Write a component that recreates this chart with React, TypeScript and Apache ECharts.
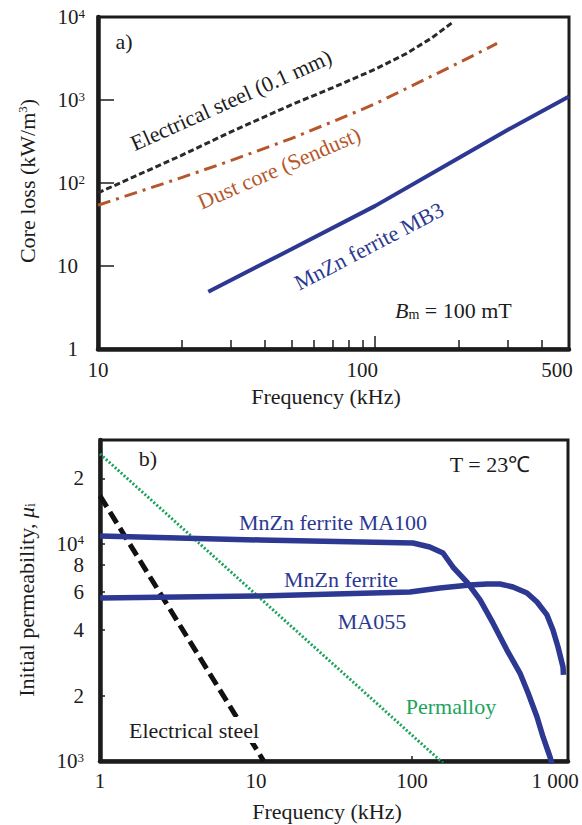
import React, { useEffect, useRef } from 'react';
import * as echarts from 'echarts';

const FONT = 'Liberation Serif';
const BLACK = '#1c1c1c';
const BLUE = '#2c3892';
const BROWN = '#b5572b';
const GREEN = '#1aa35c';

// ---- (a) core loss vs frequency, Bm = 100 mT ----
const lossSteelFreq = [10, 20, 30, 50, 70, 100, 130, 160, 190];
const lossSteelVal = [76, 215, 410, 880, 1400, 2350, 3650, 5600, 8600];
const lossDustFreq = [10, 20, 30, 50, 75, 100, 150, 200, 275];
const lossDustVal = [54, 116, 185, 345, 600, 900, 1750, 2800, 4800];
const lossFerriteFreq = [25, 50, 100, 200, 300, 500];
const lossFerriteVal = [4.9, 16, 53, 200, 435, 1100];

const lossXLabels = [10, 100, 500];
const lossXMinorTicks = [20, 30, 40, 50, 60, 70, 80, 90, 200, 300, 400];
const lossXMajorTicks = [100];
const lossYLabels = [1, 10, 100, 1000, 10000];
const lossYTicks = [10, 100, 1000];

// ---- (b) initial permeability vs frequency, T = 23 C ----
const permPermalloyFreq = [1, 160];
const permPermalloyVal = [25900, 970];
const permSteelFreq = [1, 11.2];
const permSteelVal = [16600, 1000];
const permMA100Freq = [1, 10.6, 101.5, 130, 158, 183, 225, 273, 330, 406, 492, 555, 633, 692, 767, 789];
const permMA100Val = [10840, 10400, 10070, 9660, 9060, 7810, 6660, 5510, 4320, 3240, 2540, 2055, 1594, 1290, 1043, 970];
const permMA055Freq = [1, 10.6, 97, 151, 235, 303, 367, 444, 546, 633, 733, 801, 863, 929, 935];
const permMA055Val = [5625, 5745, 5995, 6250, 6455, 6525, 6525, 6320, 5930, 5390, 4700, 4005, 3346, 2707, 2490];

const permXLabels = [1, 10, 100, 1000];
const permXTicks = [100];
const permYLabels = [1000, 2000, 4000, 6000, 8000, 10000, 20000];
const permYTicks = [2000, 4000, 6000, 8000, 10000, 20000];

const pairs = (xs: number[], ys: number[]) => xs.map((x, i) => [x, ys[i]]);

const tickText = { fontFamily: FONT, fontSize: 21, color: BLACK };
const supStyle = { fontFamily: FONT, fontSize: 13, color: BLACK, verticalAlign: 'top' as const };

function powLabel(v: number) {
  const e = Math.round(Math.log10(v));
  return `10{sup|${e}}`;
}

function txt(text: string, x: number, y: number, color: string, size: number, rotation = 0) {
  return {
    type: 'text', x, y, rotation, z: 100,
    style: { text, align: 'center', verticalAlign: 'middle', fontFamily: FONT, fontSize: size, fill: color },
  };
}

function buildOption() {
  const axisLine = { show: true, onZero: false, lineStyle: { color: BLACK, width: 4.5 } };
  const tickLine = { color: BLACK, width: 1.5 };

  return {
    animation: false,
    backgroundColor: '#ffffff',
    textStyle: { fontFamily: FONT },
    grid: [
      { left: 98, top: 17, width: 471, height: 332, show: true, borderColor: BLACK, borderWidth: 3, backgroundColor: 'transparent', outerBoundsMode: 'none' },
      { left: 100, top: 440, width: 468, height: 321, show: true, borderColor: BLACK, borderWidth: 3, backgroundColor: 'transparent', outerBoundsMode: 'none' },
    ],
    xAxis: [
      {
        gridIndex: 0, type: 'log', logBase: 10, min: 10, max: 500, position: 'bottom',
        axisLine,
        axisTick: { show: true, inside: true, length: 9, customValues: lossXMinorTicks, lineStyle: tickLine },
        splitLine: { show: false }, minorTick: { show: false },
        axisLabel: {
          show: true, customValues: lossXLabels, margin: 10, showMinLabel: true, showMaxLabel: true, ...tickText,
          formatter: (v: number) => (v === 10 ? '10' : v === 100 ? '100{sa| }' : '500{sb| }'),
          rich: { sa: { width: 26 }, sb: { width: 24 } },
        },
      },
      {
        gridIndex: 0, type: 'log', logBase: 10, min: 10, max: 500, position: 'bottom',
        axisLine: { show: false },
        axisTick: { show: true, inside: true, length: 13, customValues: lossXMajorTicks, lineStyle: tickLine },
        splitLine: { show: false }, minorTick: { show: false },
        axisLabel: { show: false },
      },
      {
        gridIndex: 1, type: 'log', logBase: 10, min: 1, max: 1000, position: 'bottom',
        axisLine,
        axisTick: { show: true, inside: true, length: 5, customValues: permXTicks, lineStyle: tickLine },
        splitLine: { show: false }, minorTick: { show: false },
        axisLabel: {
          show: true, customValues: permXLabels, margin: 9, showMinLabel: true, showMaxLabel: true, ...tickText,
          formatter: (v: number) => (v === 1000 ? '1 000{sa| }' : String(v)),
          rich: { sa: { width: 26 } },
        },
      },
    ],
    yAxis: [
      {
        gridIndex: 0, type: 'log', logBase: 10, min: 1, max: 10000, position: 'left',
        axisLine,
        axisTick: { show: true, inside: true, length: 16, customValues: lossYTicks, lineStyle: tickLine },
        splitLine: { show: false }, minorTick: { show: false },
        axisLabel: {
          show: true, customValues: lossYLabels, margin: 13, showMinLabel: true, showMaxLabel: true, ...tickText,
          formatter: (v: number) => (v === 1 ? '1{sp| }' : v === 10 ? '10{sp| }' : powLabel(v)),
          rich: { sup: supStyle, sp: { width: 7 } },
        },
      },
      {
        gridIndex: 1, type: 'log', logBase: 10, min: 1000, max: 30000, position: 'left',
        axisLine,
        axisTick: { show: true, inside: true, length: 5, customValues: permYTicks, lineStyle: tickLine },
        splitLine: { show: false }, minorTick: { show: false },
        axisLabel: {
          show: true, customValues: permYLabels, margin: 16, showMinLabel: true, showMaxLabel: true, ...tickText,
          formatter: (v: number) => (v === 1000 || v === 10000 ? powLabel(v) : String(Math.round(v / Math.pow(10, Math.floor(Math.log10(v) + 1e-9))))),
          rich: { sup: supStyle },
        },
      },
    ],
    series: [
      {
        name: 'Electrical steel (0.1 mm)', type: 'line', xAxisIndex: 0, yAxisIndex: 0,
        data: pairs(lossSteelFreq, lossSteelVal), showSymbol: false,
        lineStyle: { color: '#2a2a2a', width: 3, type: [6, 3] }, z: 3,
      },
      {
        name: 'Dust core (Sendust)', type: 'line', xAxisIndex: 0, yAxisIndex: 0,
        data: pairs(lossDustFreq, lossDustVal), showSymbol: false,
        lineStyle: { color: BROWN, width: 3, type: [13, 6, 3, 6] }, z: 3,
      },
      {
        name: 'MnZn ferrite MB3', type: 'line', xAxisIndex: 0, yAxisIndex: 0,
        data: pairs(lossFerriteFreq, lossFerriteVal), showSymbol: false,
        lineStyle: { color: BLUE, width: 4 }, z: 3,
      },
      {
        name: 'Permalloy', type: 'line', xAxisIndex: 2, yAxisIndex: 1,
        data: pairs(permPermalloyFreq, permPermalloyVal), showSymbol: false,
        lineStyle: { color: GREEN, width: 3, type: [2, 2] }, z: 3,
      },
      {
        name: 'Electrical steel', type: 'line', xAxisIndex: 2, yAxisIndex: 1,
        data: pairs(permSteelFreq, permSteelVal), showSymbol: false,
        lineStyle: { color: '#111111', width: 5, type: [13, 6] }, z: 3,
      },
      {
        name: 'MnZn ferrite MA100', type: 'line', xAxisIndex: 2, yAxisIndex: 1,
        data: pairs(permMA100Freq, permMA100Val), showSymbol: false,
        lineStyle: { color: BLUE, width: 5.5, join: 'round' }, z: 3,
      },
      {
        name: 'MnZn ferrite MA055', type: 'line', xAxisIndex: 2, yAxisIndex: 1,
        data: pairs(permMA055Freq, permMA055Val), showSymbol: false,
        lineStyle: { color: BLUE, width: 5.5, join: 'round' }, z: 3,
      },
    ],
    graphic: [
      txt('a)', 124, 41, BLACK, 22),
      txt('Electrical steel (0.1 mm)', 231, 100, BLACK, 22, 0.42),
      txt('Dust core (Sendust)', 279, 168, BROWN, 22, 0.41),
      txt('MnZn ferrite MB3', 369, 246, BLUE, 22, 0.48),
      {
        type: 'text', x: 395, y: 310, z: 100,
        style: {
          text: '{b|B}{s|m}{n| = 100 mT}', align: 'left', verticalAlign: 'middle',
          rich: {
            b: { fontFamily: FONT, fontSize: 22, fontStyle: 'italic', fill: BLACK, color: BLACK },
            s: { fontFamily: FONT, fontSize: 14, fill: BLACK, color: BLACK, verticalAlign: 'bottom' },
            n: { fontFamily: FONT, fontSize: 22, fill: BLACK, color: BLACK },
          },
        },
      },
      {
        type: 'text', x: 27, y: 181, rotation: Math.PI / 2, z: 100,
        style: {
          text: '{n|Core loss (kW/m}{sup|3}{n|)}', align: 'center', verticalAlign: 'middle',
          rich: {
            n: { fontFamily: FONT, fontSize: 22, fill: BLACK, color: BLACK },
            sup: { fontFamily: FONT, fontSize: 13, fill: BLACK, color: BLACK, verticalAlign: 'top' },
          },
        },
      },
      txt('Frequency (kHz)', 326, 396, BLACK, 22),
      txt('b)', 148, 458, BLACK, 22),
      txt('T = 23℃', 490, 464, BLACK, 22),
      txt('MnZn ferrite MA100', 333, 522, BLUE, 22),
      txt('MnZn ferrite', 341, 579, BLUE, 22),
      txt('MA055', 372, 621, BLUE, 22),
      txt('Permalloy', 451, 706, GREEN, 22),
      {
        type: 'text', x: 195, y: 730, z: 100,
        style: {
          text: 'Electrical steel', align: 'center', verticalAlign: 'middle',
          fontFamily: FONT, fontSize: 22, fill: BLACK,
          backgroundColor: '#ffffff', padding: [2, 4, 2, 2],
        },
      },
      {
        type: 'text', x: 26, y: 600, rotation: Math.PI / 2, z: 100,
        style: {
          text: '{n|Initial permeability, }{it|μ}{sub|i}', align: 'center', verticalAlign: 'middle',
          rich: {
            n: { fontFamily: FONT, fontSize: 22, fill: BLACK, color: BLACK },
            it: { fontFamily: FONT, fontSize: 22, fontStyle: 'italic', fill: BLACK, color: BLACK },
            sub: { fontFamily: FONT, fontSize: 14, fill: BLACK, color: BLACK, verticalAlign: 'bottom' },
          },
        },
      },
      txt('Frequency (kHz)', 327, 811, BLACK, 22),
    ],
  };
}

export default function App() {
  const ref = useRef<HTMLDivElement>(null);
  useEffect(() => {
    document.body.style.margin = '0';
    const chart = echarts.init(ref.current as HTMLDivElement, null, { renderer: 'svg' });
    chart.setOption(buildOption() as any);
    return () => chart.dispose();
  }, []);
  return <div ref={ref} style={{ width: 582, height: 825 }} />;
}
